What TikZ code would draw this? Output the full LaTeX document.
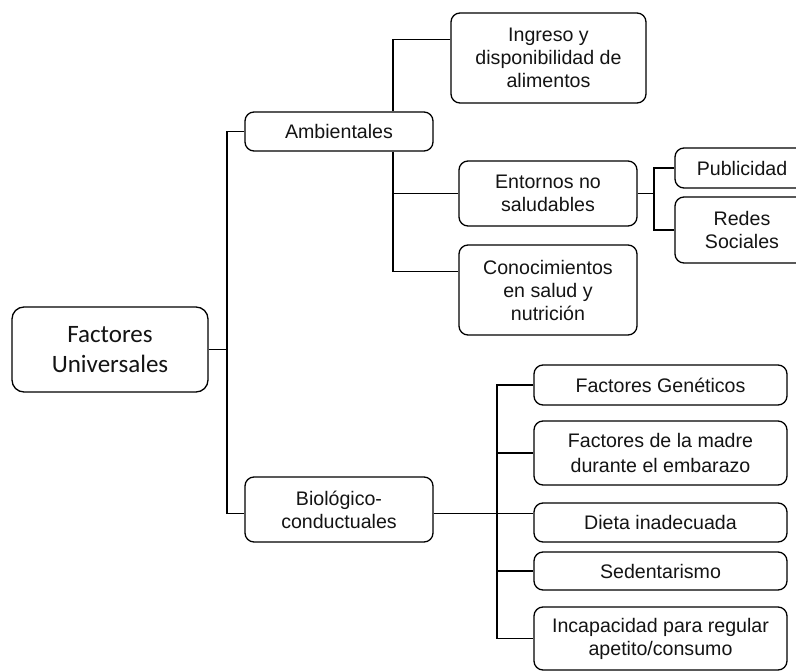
\documentclass[tikz,border=0pt]{standalone}
\usepackage{fontspec}
\setmainfont{Liberation Sans}
\newfontfamily\rootfont{Carlito}
\usetikzlibrary{calc}
\tikzset{
  box/.style={draw=black, fill=white, rounded corners=9pt, line width=1.3pt, align=center,
    inner sep=0pt, font=\fontsize{19.6}{23}\selectfont, text=black!92},
  rootbox/.style={box, rounded corners=12pt, font=\rootfont\fontsize{25}{30}\selectfont},
  link/.style={draw=black, line width=1.3pt}
}
\begin{document}
\begin{tikzpicture}[x=1pt,y=-1pt]
\useasboundingbox (0,0) rectangle (796,671);
% nodes
\node[rootbox, minimum width=196pt, minimum height=85pt] (root) at (110,349.5) {Factores\\Universales};
\node[box, minimum width=188pt, minimum height=39pt] (amb) at (339,131.5) {Ambientales};
\node[box, minimum width=195pt, minimum height=90pt] (ing) at (548.5,58) {Ingreso y\\disponibilidad de\\alimentos};
\node[box, minimum width=178pt, minimum height=65pt] (ent) at (548,193.5) {Entornos no\\saludables};
\node[box, minimum width=178pt, minimum height=90pt] (con) at (548,290) {Conocimientos\\en salud y\\nutrición};
\node[box, minimum width=134pt, minimum height=40pt] (pub) at (742,168) {Publicidad};
\node[box, minimum width=134pt, minimum height=66pt] (red) at (742,230) {Redes\\Sociales};
\node[box, minimum width=188pt, minimum height=65pt] (bio) at (339,509.5) {Biológico-\\conductuales};
\node[box, minimum width=253pt, minimum height=40pt] (gen) at (660.5,385) {Factores Genéticos};
\node[box, minimum width=253pt, minimum height=64pt, font=\fontsize{19.6}{25.5}\selectfont] (mad) at (660.5,453) {Factores de la madre\\durante el embarazo};
\node[box, minimum width=253pt, minimum height=39pt] (die) at (660.5,522.5) {Dieta inadecuada};
\node[box, minimum width=253pt, minimum height=38pt] (sed) at (660.5,571) {Sedentarismo};
\node[box, minimum width=253pt, minimum height=63pt] (inc) at (660.5,638.5) {Incapacidad para regular\\apetito/consumo};
% junction columns
\coordinate (t1) at (227,0);
\coordinate (t2) at (393,0);
\coordinate (t3) at (654,0);
\coordinate (t4) at (497,0);
\coordinate (ingIn) at ($(ing.north west)+(0,27)$);
\coordinate (conIn) at ($(con.north west)+(0,27)$);
\coordinate (bioIn) at ($(bio.west)+(0,4)$);
\coordinate (bioOut) at ($(bio.east)+(0,4)$);
% connectors
\draw[link] (root.east) -- (root.east -| t1);
\draw[link] (amb.west) -| (t1 |- bioIn) -- (bioIn);
\draw[link] (ingIn) -| (t2 |- amb.north);
\draw[link] (t2 |- amb.south) |- (conIn);
\draw[link] (t2 |- ent.west) -- (ent.west);
\draw[link] (ent.east) -- (ent.east -| t3);
\draw[link] (pub.west) -| (t3 |- red.west) -- (red.west);
\draw[link] (bioOut) -- (bioOut -| die.west);
\draw[link] (gen.west) -| (t4 |- inc.west) -- (inc.west);
\draw[link] (t4 |- mad.west) -- (mad.west);
\draw[link] (t4 |- sed.west) -- (sed.west);
\end{tikzpicture}
\end{document}
